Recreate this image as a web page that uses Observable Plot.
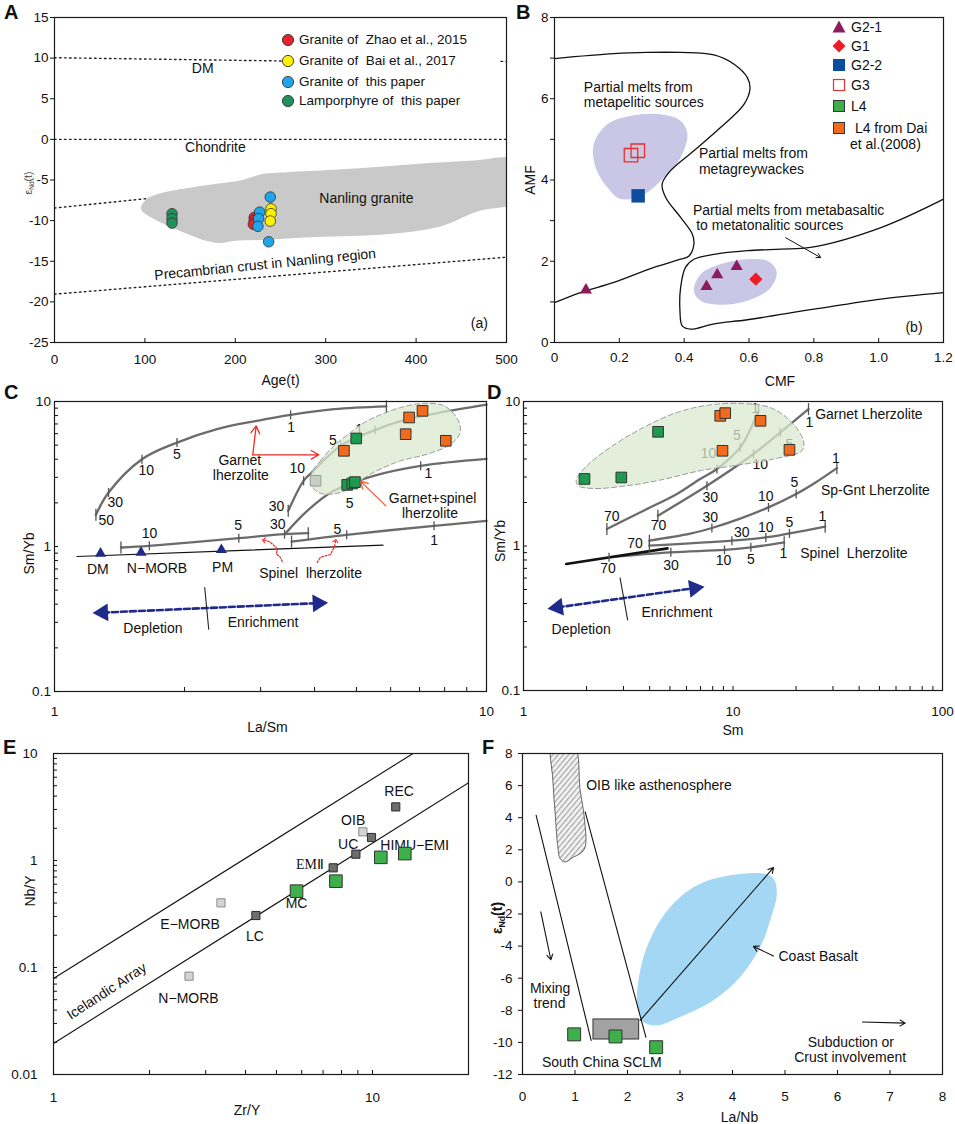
<!DOCTYPE html>
<html>
<head>
<meta charset="utf-8">
<script src="https://cdn.jsdelivr.net/npm/d3@7"></script>
<script src="https://cdn.jsdelivr.net/npm/@observablehq/plot@0.6"></script>
<style>
  html,body{margin:0;padding:0;background:#fff;}
  #fig{position:relative;width:955px;height:1124px;overflow:hidden;font-family:"Liberation Sans",Arial,Helvetica,sans-serif;color:#111;}
  .plab{position:absolute;font-weight:bold;font-size:20px;line-height:20px;}
  .ltxt{position:absolute;font-size:13.5px;line-height:16px;white-space:pre;}
  .lsym{position:absolute;overflow:visible;}
</style>
</head>
<body>
<div id="fig"></div>
<script>
// ================= Panel A : eNd(t) vs Age =================
const aXTicks = [0,100,200,300,400,500];
const aYTicks = [-25,-20,-15,-10,-5,0,5,10,15];
const aZhao = [{age:221,eNd:-9.6},{age:221,eNd:-10.0},{age:220,eNd:-10.45}];
const aBai  = [{age:239.5,eNd:-8.55},{age:239.5,eNd:-9.15},{age:238.7,eNd:-10.05}];
const aThis = [{age:227,eNd:-8.95},{age:225.8,eNd:-9.75},{age:225,eNd:-10.7},{age:238.7,eNd:-7.1},{age:236.9,eNd:-12.6}];
const aLamp = [{age:130,eNd:-9.15},{age:130,eNd:-9.75},{age:130,eNd:-10.3}];
const aRefLines = [
  {id:"DM",age:0,eNd:10.05},{id:"DM",age:252,eNd:9.65},
  {id:"DM2",age:494,eNd:9.6},{id:"DM2",age:500,eNd:9.6},
  {id:"CH",age:0,eNd:0},{id:"CH",age:500,eNd:0},
  {id:"UP",age:0,eNd:-8.45},{id:"UP",age:110,eNd:-7.2},
  {id:"PC",age:0,eNd:-19.05},{id:"PC",age:500,eNd:-14.5}
];
const aNanling = [[95.6,-8.34],[102.2,-7.31],[117,-6.62],[146.5,-6.0],[179.7,-5.47],[205.5,-5.06],[231.4,-4.24],[257.2,-4.04],[308.9,-3.75],[364.2,-3.34],[419.6,-2.89],[463.8,-2.6],[515,-2.6],[515,-7.5],[471.2,-8.75],[456.5,-9.36],[438,-10.3],[419.6,-10.92],[382.7,-11.53],[345.8,-11.82],[308.9,-11.94],[272,-12.1],[235.1,-12.35],[198.2,-12.51],[183.4,-12.76],[168.6,-12.51],[146.5,-11.61],[124.4,-10.59],[105.9,-9.56],[96.7,-8.83]];
const aLabels = [{age:164,eNd:8.7,t:"DM"},{age:178,eNd:-1.0,t:"Chondrite"},{age:345,eNd:-7.25,t:"Nanling granite"},{age:470,eNd:-22.7,t:"(a)"}];
const aRotLabel = [{age:233,eNd:-15.4,t:"Precambrian crust in Nanling region"}];
const aLegend = [
  {label:"Granite of  Zhao et al., 2015", color:"#e8222a"},
  {label:"Granite of  Bai et al., 2017", color:"#fff200"},
  {label:"Granite of  this paper", color:"#1ea5ea"},
  {label:"Lamporphyre of  this paper", color:"#22905a"}
];

// ================= Panel B : AMF vs CMF =================
const bXTicks = [0,0.2,0.4,0.6,0.8,1.0,1.2];
const bYTicks = [0,1,2,3,4,5,6,7,8];
const bG21 = [[0.097,1.29],[0.469,1.38],[0.502,1.67],[0.562,1.87]];
const bG1  = [[0.621,1.56]];
const bG22 = [[0.258,3.61]];
const bG3  = [[0.236,4.61],[0.257,4.72]];
const bBoundary1 = [[0,6.99],[0.183,7.11],[0.286,7.14],[0.389,7.14],[0.492,7.08],[0.554,6.85],[0.595,6.52],[0.603,6.24],[0.585,5.87],[0.512,5.29],[0.43,4.72],[0.358,4.23],[0.332,3.90],[0.343,3.57],[0.389,3.08],[0.425,2.67],[0.43,2.42],[0.415,2.13],[0.389,2.05],[0.307,1.85],[0.183,1.48],[0.08,1.23],[0,0.98]];
const bBoundary2 = [[1.2,3.53],[1.007,2.83],[0.79,2.34],[0.698,2.30],[0.595,2.26],[0.492,2.17],[0.43,2.05],[0.404,1.85],[0.389,1.35],[0.387,0.78],[0.394,0.41],[0.42,0.33],[0.492,0.46],[0.595,0.56],[0.8,0.82],[1.007,1.07],[1.2,1.23]];
const bShadeUpper = [[0.121,4.88],[0.163,5.37],[0.235,5.58],[0.327,5.62],[0.389,5.46],[0.41,5.13],[0.389,4.55],[0.338,4.06],[0.276,3.65],[0.204,3.53],[0.163,3.82],[0.127,4.31]];
const bShadeLower = [[0.43,1.27],[0.451,1.68],[0.513,1.93],[0.595,2.05],[0.656,2.01],[0.685,1.76],[0.667,1.35],[0.595,1.03],[0.513,0.93],[0.451,1.03]];
const bArrow = [{x1:0.713,y1:2.58,x2:0.821,y2:2.09}];
const bTexts = [
  {x:0.0906,y:6.28,t:"Partial melts from"},{x:0.0906,y:5.91,t:"metapelitic sources"},
  {x:0.4456,y:4.64,t:"Partial melts from"},{x:0.4456,y:4.27,t:"metagreywackes"},
  {x:0.427,y:3.24,t:"Partial melts from metabasaltic"},{x:0.437,y:2.87,t:"to metatonalitic sources"}
];
const bTag = [{x:1.109,y:0.37,t:"(b)"}];

// ================= Panel C : Sm/Yb vs La/Sm =================
const cXTicks = [1,2,3,4,5,6,7,8,9,10];
const cXMajor = [1,10];
const cYTicks = [0.1,0.2,0.3,0.4,0.5,0.6,0.7,0.8,0.9,1,2,3,4,5,6,7,8,9,10];
const cYMajor = [0.1,1,10];
const cGarnetCurve = [[1.247,1.653],[1.334,2.357],[1.594,4.0],[1.921,5.21],[2.378,6.45],[2.945,7.36],[3.52,8.09],[4.44,8.85],[5.865,9.25]];
const cGtSpCurveA = [[3.476,1.762],[3.772,2.837],[3.94,3.24],[4.596,4.946],[5.52,6.35],[6.56,7.56],[7.84,8.40],[10,9.5]];
const cGtSpCurveB = [[3.414,1.217],[3.846,1.762],[4.43,2.42],[5.48,3.07],[7.04,3.60],[10,4.02]];
const cSpinelA = [[1.425,0.984],[1.658,1.011],[2.671,1.142],[3.408,1.217],[3.868,1.236]];
const cSpinelB = [[3.538,1.082],[4.746,1.204],[7.56,1.388],[10,1.5]];
const cMantle = [[1.127,0.853],[5.76,1.022]];
const cTicks = [[1.334,2.357],[1.594,4.0],[1.921,5.21],[3.52,8.09],[3.772,2.837],[4.6,4.95],[5.52,6.35],[4.9,2.72],[7.04,3.60],[1.658,1.011],[2.671,1.142],[3.408,1.217],[4.746,1.204],[7.56,1.388]];
const cBars = [[1.247,1.653],[5.865,9.25],[3.476,1.762],[1.425,0.984],[3.868,1.236],[3.538,1.082]];
const cTickLabels = [
  {x:3.53,y:6.62,t:"1"},{x:1.921,y:4.34,t:"5"},{x:1.631,y:3.33,t:"10"},{x:1.383,y:2.01,t:"30"},{x:1.318,y:1.503,t:"50"},
  {x:3.266,y:1.888,t:"30"},{x:3.647,y:3.47,t:"10"},{x:4.41,y:5.36,t:"5"},{x:5.07,y:6.45,t:"1"},
  {x:3.288,y:1.427,t:"30"},{x:4.82,y:1.979,t:"5"},{x:7.34,y:3.17,t:"1"},
  {x:1.66,y:1.236,t:"10"},{x:2.66,y:1.388,t:"5"},{x:4.515,y:1.318,t:"5"},{x:7.56,y:1.106,t:"1"}
];
const cShade = [[3.915,3.072],[4.13,3.90],[4.436,4.946],[4.846,6.11],[5.30,7.36],[6.33,9.09],[7.17,9.69],[7.98,9.33],[8.57,7.56],[8.69,6.11],[8.27,5.08],[7.30,4.34],[6.33,3.90],[5.79,3.51],[5.30,3.072],[4.93,2.62],[4.596,2.357],[4.20,2.30],[3.985,2.49]];
const cOrange = [[4.677,4.57],[6.62,7.76],[7.11,8.62],[6.50,5.95],[8.05,5.36]];
const cGreen = [[4.995,5.56],[4.76,2.66],[4.89,2.72],[4.96,2.78]];
const cGrey = [[4.02,2.84]];
const cReservoirs = [[1.278,0.895],[1.586,0.909],[2.434,0.948]];
const cNames = [
  {x:2.685,y:3.90,t:"Garnet"},{x:2.70,y:3.07,t:"lherzolite"},
  {x:7.50,y:2.14,t:"Garnet+spinel"},{x:7.40,y:1.69,t:"lherzolite"},
  {x:3.915,y:0.655,t:"Spinel  lherzolite"},
  {x:1.26,y:0.69,t:"DM"},{x:1.727,y:0.705,t:"N\u2212MORB"},{x:2.45,y:0.716,t:"PM"},
  {x:1.69,y:0.272,t:"Depletion"},{x:3.04,y:0.299,t:"Enrichment"}
];
const cGarnetArrows = [{x1:2.877,y1:4.29,x2:2.93,y2:6.80},{x1:2.877,y1:4.29,x2:4.09,y2:4.29}];
const cGtSpArrow = [{x1:5.85,y1:1.908,x2:5.11,y2:2.81}];
const cWiggle1 = [[3.367,0.788],[3.324,0.848],[3.266,0.894],[3.278,0.959],[3.208,1.027],[3.134,1.082],[3.051,1.106]];
const cWiggle2 = [[4.057,0.775],[4.13,0.839],[4.24,0.862],[4.355,0.886],[4.396,0.933],[4.436,0.984],[4.475,1.094]];
const cDeplLine = [[1.294,0.35],[4.07,0.407]];
const cDeplHeads = [{x:1.294,y:0.35,rot:267.4},{x:4.07,y:0.407,rot:87.4}];
const cDivider = [[2.227,0.521],[2.275,0.269]];

// ================= Panel D : Sm/Yb vs Sm =================
const dXTicks = [1,2,3,4,5,6,7,8,9,10,20,30,40,50,60,70,80,90,100];
const dXMajor = [1,10,100];
const dGaCurve = [[2.50,1.311],[3.74,1.755],[5.40,2.29],[6.97,2.91],[8.38,3.41],[10.82,4.81],[13.23,8.62]];
const dGbCurve = [[4.38,1.62],[7.51,2.61],[12.52,4.33],[16.80,6.10],[22.93,8.86]];
const dSpGnt = [[3.99,1.089],[6.25,1.217],[7.93,1.332],[10.82,1.545],[14.77,1.85],[20.02,2.29],[24.67,2.74],[31.32,3.46]];
const dSp2 = [[3.99,1.005],[9.88,1.089],[14.35,1.147],[18.60,1.223],[27.54,1.36]];
const dSp3 = [[2.56,0.835],[5.05,0.904],[9.11,0.939],[12.17,0.979],[17.55,1.06]];
const dMantle = [[1.598,0.751],[4.87,0.963]];
const dTicks = [[8.38,3.41],[10.82,4.81],[7.51,2.61],[12.52,4.33],[16.80,6.10],[7.93,1.332],[14.77,1.85],[20.02,2.29],[9.88,1.089],[14.35,1.147],[18.60,1.223],[2.56,0.835],[5.05,0.904],[9.11,0.939],[12.17,0.979]];
const dBars = [[2.50,1.311],[13.23,8.62],[4.38,1.62],[22.93,8.86],[3.99,1.089],[31.32,3.46],[3.99,1.005],[27.54,1.36],[17.55,1.06]];
const dTickLabels = [
  {x:2.64,y:1.603,t:"70"},{x:7.64,y:4.37,t:"10"},{x:10.43,y:5.79,t:"5"},{x:12.76,y:8.90,t:"1"},
  {x:4.41,y:1.397,t:"70"},{x:7.78,y:2.15,t:"30"},{x:13.48,y:3.69,t:"10"},{x:18.60,y:5.02,t:"5"},{x:23.17,y:7.16,t:"1"},
  {x:7.78,y:1.563,t:"30"},{x:14.35,y:2.20,t:"10"},{x:19.65,y:2.73,t:"5"},{x:30.97,y:4.03,t:"1"},
  {x:3.41,y:1.043,t:"70"},
  {x:11.02,y:1.243,t:"30"},{x:14.35,y:1.345,t:"10"},{x:18.60,y:1.45,t:"5"},{x:26.7,y:1.595,t:"1"},
  {x:2.53,y:0.694,t:"70"},{x:5.06,y:0.731,t:"30"},{x:9.01,y:0.792,t:"10"},{x:12.17,y:0.804,t:"5"},{x:17.4,y:0.881,t:"1"}
];
const dNames = [{x:24.67,y:8.09,t:"Garnet Lherzolite"},{x:26.27,y:2.44,t:"Sp-Gnt Lherzolite"},{x:20.92,y:0.881,t:"Spinel  Lherzolite"}];
const dShade = [[1.784,2.86],[2.006,3.59],[2.593,4.81],[3.74,6.61],[5.40,8.39],[7.78,9.48],[11.22,9.68],[15.05,9.08],[18.75,7.35],[21.70,5.35],[21.32,4.56],[15.6,4.0],[10.05,3.59],[6.97,3.32],[4.49,2.86],[3.11,2.61],[2.158,2.50],[1.83,2.61]];
const dGreen = [[1.955,2.91],[2.93,2.98],[4.39,6.17]];
const dOrange = [[8.69,7.96],[9.18,8.31],[13.53,7.35],[8.91,4.56],[18.60,4.63]];
const dDeplLine = [[1.456,0.376],[6.54,0.511]];
const dDeplHeads = [{x:1.456,y:0.376,rot:262},{x:6.54,y:0.511,rot:82}];
const dDivider = [[2.89,0.601],[3.14,0.308]];
const dDeplText = [{x:1.885,y:0.263,t:"Depletion"},{x:5.40,y:0.348,t:"Enrichment"}];

// ================= Panel E : Nb/Y vs Zr/Y =================
const eXTicks = [1,2,3,4,5,6,7,8,9,10];
const eXMajor = [1,10];
const eYTicks = [0.01,0.02,0.03,0.04,0.05,0.06,0.07,0.08,0.09,0.1,0.2,0.3,0.4,0.5,0.6,0.7,0.8,0.9,1,2,3,4,5,6,7,8,9,10];
const eYMajor = [0.01,0.1,1,10];
const eUpper = [[1,0.079],[13.4,10]];
const eLower = [[1,0.0195],[20,5.33]];
const eLight = [[2.66,0.083],[3.35,0.402],[9.33,1.853]];
const eDark = [[4.31,0.306],[7.53,0.854],[8.87,1.146],[9.93,1.64],[11.83,3.17]];
const eSamples = [[5.78,0.517],[7.68,0.641],[10.62,1.07],[12.63,1.16]];
const eLabels = [
  {x:12.12,y:4.38,t:"REC"},{x:8.70,y:2.38,t:"OIB"},{x:8.39,y:1.42,t:"UC"},{x:13.57,y:1.39,t:"HIMU\u2212EM\u2160"},
  {x:5.78,y:0.396,t:"MC"},{x:2.68,y:0.254,t:"E\u2212MORB"},{x:4.28,y:0.194,t:"LC"},{x:2.65,y:0.0513,t:"N\u2212MORB"}
];
const eSerifLabel = [{x:6.37,y:0.918,t:"EM\u2161"}];
const eArrayLabel = [{x:1.469,y:0.060,t:"Icelandic Array"}];

// ================= Panel F : eNd(t) vs La/Nb =================
const fXTicks = [0,1,2,3,4,5,6,7,8];
const fYTicks = [-12,-10,-8,-6,-4,-2,0,2,4,6,8];
const fLeftLine = [[0.26,4.15],[1.308,-9.88]];
const fRightLine = [[1.194,4.36],[2.35,-9.67]];
const fOIB = [[0.571,8.7],[0.971,8.7],[1.098,5.71],[1.175,4.05],[1.194,2.18],[1.098,1.76],[0.971,1.55],[0.813,1.24],[0.717,1.45],[0.673,2.18],[0.622,4.26],[0.578,6.34]];
const fCoast = [[2.178,-7.18],[2.305,-4.68],[2.622,-2.4],[3.003,-0.94],[3.384,-0.11],[3.956,0.41],[4.59,0.52],[4.781,0.2],[4.845,-0.73],[4.717,-2.4],[4.527,-4.06],[4.146,-5.93],[3.638,-7.38],[3.003,-8.42],[2.559,-8.94],[2.305,-8.73],[2.21,-8.0]];
const fSCLM = [{x1:1.352,x2:2.222,y1:-9.82,y2:-8.57}];
const fArrows = [{x1:0.349,y1:-1.87,x2:0.54,y2:-4.85},{x1:2.241,y1:-8.63,x2:4.781,y2:0.89},{x1:4.781,y1:-4.62,x2:4.4,y2:-4.02},{x1:6.476,y1:-8.73,x2:7.289,y2:-8.8}];
const fSamples = [[0.984,-9.5],[1.771,-9.63],[2.546,-10.3]];
const fLeftTexts = [{x:1.213,y:6.02,t:"OIB like asthenosphere"},{x:4.876,y:-4.62,t:"Coast Basalt"}];
const fCenterTexts = [{x:0.527,y:-6.62,t:"Mixing"},{x:0.514,y:-7.55,t:"trend"},{x:1.511,y:-11.27,t:"South China SCLM"},{x:6.254,y:-10.02,t:"Subduction or"},{x:6.241,y:-10.96,t:"Crust involvement"}];

// ================= rendering =================
const fig = document.getElementById("fig");
const FONT = '"Liberation Sans", Arial, Helvetica, sans-serif';
const style = {background:"transparent", overflow:"visible", fontFamily:FONT, fontSize:"13.5px", color:"#111"};
const str = d => String(d);
const major = arr => d => arr.includes(d) ? String(d) : "";
const vbar = {draw(ctx, size){ const h = Math.sqrt(size/Math.PI); ctx.moveTo(0,-h); ctx.lineTo(0,h); }};
function place(svg, left, top){
  svg.style.position = "absolute"; svg.style.left = left+"px"; svg.style.top = top+"px"; svg.style.maxWidth = "none";
  fig.appendChild(svg); return svg;
}
function subNd(svg, shift){
  const ns = "http://www.w3.org/2000/svg";
  svg.querySelectorAll("text").forEach(t => {
    if (t.textContent === "εNd(t)") {
      t.textContent = "";
      const a = document.createElementNS(ns,"tspan"); a.textContent = "ε";
      const b = document.createElementNS(ns,"tspan"); b.textContent = "Nd"; b.setAttribute("font-size","0.62em"); b.setAttribute("dy", shift);
      const c = document.createElementNS(ns,"tspan"); c.textContent = "(t)"; c.setAttribute("dy", -shift);
      t.appendChild(a); t.appendChild(b); t.appendChild(c);
    }
  });
}
const frame = () => Plot.frame({stroke:"#1a1a1a", strokeWidth:1.2});
const title = (t, o) => Plot.text([t], {text: d => d, fontSize:14, textAnchor:"middle", lineAnchor:"middle", ...o});

// ---------- A ----------
const svgA = Plot.plot({
  width:520, height:390, marginLeft:54, marginRight:14, marginTop:17, marginBottom:48, style,
  x:{domain:[0,500]}, y:{domain:[-25,15]},
  marks:[
    Plot.line(aRefLines, {x:"age", y:"eNd", z:"id", stroke:"#222", strokeWidth:1.4, strokeDasharray:"1.6,3.4"}),
    Plot.line(aNanling, {curve:"catmull-rom-closed", fill:"#c9c9c9", stroke:"none", clip:true}),
    Plot.text(aLabels, {x:"age", y:"eNd", text:"t", fontSize:14}),
    Plot.text(aRotLabel, {x:"age", y:"eNd", text:"t", fontSize:14, rotate:-5.7}),
    Plot.dot(aLamp, {x:"age", y:"eNd", r:5.3, fill:"#22905a", stroke:"#333", strokeWidth:0.8}),
    Plot.dot(aZhao, {x:"age", y:"eNd", r:5.3, fill:"#e8222a", stroke:"#333", strokeWidth:0.8}),
    Plot.dot(aThis, {x:"age", y:"eNd", r:5.3, fill:"#1ea5ea", stroke:"#333", strokeWidth:0.8}),
    Plot.dot(aBai, {x:"age", y:"eNd", r:5.3, fill:"#fff200", stroke:"#333", strokeWidth:0.8}),
    frame(),
    Plot.axisX(aXTicks, {tickSize:-4, tickPadding:16, tickFormat:str, label:null}),
    Plot.axisY(aYTicks, {tickSize:4, tickPadding:2, tickFormat:str, label:null}),
    title("Age(t)", {frameAnchor:"bottom", dy:38}),
    title("εNd(t)", {frameAnchor:"left", dx:-26, dy:3, rotate:-90, fontSize:10.5, fill:"#444"})
  ]
});
subNd(svgA, 2);
place(svgA, 0, 0);

// ---------- B ----------
place(Plot.plot({
  width:455, height:390, marginLeft:54, marginRight:12, marginTop:17, marginBottom:48, style,
  x:{domain:[0,1.2]}, y:{domain:[0,8]},
  marks:[
    Plot.line(bShadeUpper, {curve:"catmull-rom-closed", fill:"#cac7e6", stroke:"none"}),
    Plot.line(bShadeLower, {curve:"catmull-rom-closed", fill:"#cac7e6", stroke:"none"}),
    Plot.line(bBoundary1, {curve:"catmull-rom", stroke:"#111", strokeWidth:1.3}),
    Plot.line(bBoundary2, {curve:"catmull-rom", stroke:"#111", strokeWidth:1.3}),
    Plot.arrow(bArrow, {x1:"x1", y1:"y1", x2:"x2", y2:"y2", stroke:"#111", strokeWidth:1, headLength:7}),
    Plot.text(bTexts, {x:"x", y:"y", text:"t", textAnchor:"start", fontSize:14}),
    Plot.text(bTag, {x:"x", y:"y", text:"t", fontSize:14}),
    Plot.dot(bG3, {symbol:"square", r:7.6, fill:"none", stroke:"#e8312f", strokeWidth:1.3}),
    Plot.dot(bG22, {symbol:"square", r:7.6, fill:"#0e4d9e"}),
    Plot.dot(bG21, {symbol:"triangle2", r:5.8, fill:"#8b1d5c"}),
    Plot.dot(bG1, {symbol:"square", rotate:45, r:5.3, fill:"#ee1d25"}),
    frame(),
    Plot.axisX(bXTicks, {tickSize:-4, tickPadding:14, tickFormat:d => d === 0 ? "0" : d.toFixed(1), label:null}),
    Plot.axisY(bYTicks, {tickSize:4, tickPadding:2, tickFormat:d => d % 2 === 0 ? String(d) : "", label:null}),
    title("CMF", {frameAnchor:"bottom", dy:39, dx:31}),
    title("AMF", {frameAnchor:"left", dx:-24, rotate:-90})
  ]
}), 500, 0);

// ---------- C ----------
place(Plot.plot({
  width:500, height:360, marginLeft:54, marginRight:14, marginTop:21, marginBottom:49, style,
  x:{type:"log", domain:[1,10]}, y:{type:"log", domain:[0.1,10]},
  marks:[
    Plot.line(cMantle, {stroke:"#111", strokeWidth:1.2}),
    Plot.line(cGarnetCurve, {curve:"catmull-rom", stroke:"#6b6b6b", strokeWidth:2.3}),
    Plot.line(cGtSpCurveA, {curve:"catmull-rom", stroke:"#6b6b6b", strokeWidth:2.3}),
    Plot.line(cGtSpCurveB, {curve:"catmull-rom", stroke:"#6b6b6b", strokeWidth:2.3}),
    Plot.line(cSpinelA, {curve:"catmull-rom", stroke:"#6b6b6b", strokeWidth:2.3}),
    Plot.line(cSpinelB, {curve:"catmull-rom", stroke:"#6b6b6b", strokeWidth:2.3}),
    Plot.dot(cTicks, {symbol:vbar, r:4.5, stroke:"#555", strokeWidth:1.3, fill:"none"}),
    Plot.dot(cBars, {symbol:vbar, r:6, stroke:"#555", strokeWidth:1.3, fill:"none"}),
    Plot.text(cTickLabels, {x:"x", y:"y", text:"t", fontSize:14}),
    Plot.line(cShade, {curve:"catmull-rom-closed", fill:"#d9e9cf", fillOpacity:0.75, stroke:"#9a9a9a", strokeWidth:1, strokeDasharray:"5,3"}),
    Plot.dot(cGrey, {symbol:"square", r:6, fill:"#c9ccc4", stroke:"#9a9a9a", strokeWidth:1}),
    Plot.dot(cOrange, {symbol:"square", r:6, fill:"#f26a1b", stroke:"#333", strokeWidth:1}),
    Plot.dot(cGreen, {symbol:"square", r:6, fill:"#1d9a50", stroke:"#333", strokeWidth:1}),
    Plot.dot(cReservoirs, {symbol:"triangle2", r:5.3, fill:"#1f2b86"}),
    Plot.text(cNames, {x:"x", y:"y", text:"t", fontSize:14}),
    Plot.arrow(cGarnetArrows, {x1:"x1", y1:"y1", x2:"x2", y2:"y2", stroke:"#ee2a24", strokeWidth:1.3, headLength:10}),
    Plot.arrow(cGtSpArrow, {x1:"x1", y1:"y1", x2:"x2", y2:"y2", stroke:"#f0552a", strokeWidth:1.2, headLength:10}),
    Plot.line(cWiggle1, {curve:"catmull-rom", stroke:"#ee2a24", strokeWidth:1.2, strokeDasharray:"2,1.6", markerEnd:"arrow"}),
    Plot.line(cWiggle2, {curve:"catmull-rom", stroke:"#ee2a24", strokeWidth:1.2, strokeDasharray:"2,1.6", markerEnd:"arrow"}),
    Plot.line(cDeplLine, {stroke:"#1f2b8c", strokeWidth:2.6, strokeDasharray:"6,3"}),
    Plot.dot(cDeplHeads, {x:"x", y:"y", rotate:"rot", symbol:"triangle2", r:8.5, fill:"#1f2b8c"}),
    Plot.line(cDivider, {stroke:"#222", strokeWidth:1.1}),
    frame(),
    Plot.axisX(cXTicks, {tickSize:-4, tickPadding:19, tickFormat:major(cXMajor), label:null}),
    Plot.axisY(cYTicks, {tickSize:-4, tickPadding:7.6, tickFormat:major(cYMajor), label:null}),
    title("La/Sm", {frameAnchor:"bottom", dy:36, dx:-3}),
    title("Sm/Yb", {frameAnchor:"left", dx:-25, dy:7, rotate:-90})
  ]
}), 0, 380);

// ---------- D ----------
place(Plot.plot({
  width:475, height:360, marginLeft:43, marginRight:13, marginTop:21, marginBottom:50, style,
  x:{type:"log", domain:[1,100]}, y:{type:"log", domain:[0.1,10]},
  marks:[
    Plot.line(dGaCurve, {curve:"catmull-rom", stroke:"#6b6b6b", strokeWidth:2.3}),
    Plot.line(dGbCurve, {curve:"catmull-rom", stroke:"#6b6b6b", strokeWidth:2.3}),
    Plot.line(dSpGnt, {curve:"catmull-rom", stroke:"#6b6b6b", strokeWidth:2.3}),
    Plot.line(dSp2, {curve:"catmull-rom", stroke:"#6b6b6b", strokeWidth:2.3}),
    Plot.line(dSp3, {curve:"catmull-rom", stroke:"#6b6b6b", strokeWidth:2.3}),
    Plot.line(dMantle, {stroke:"#111", strokeWidth:2.6}),
    Plot.dot(dTicks, {symbol:vbar, r:4.5, stroke:"#555", strokeWidth:1.3, fill:"none"}),
    Plot.dot(dBars, {symbol:vbar, r:6, stroke:"#555", strokeWidth:1.3, fill:"none"}),
    Plot.text(dTickLabels, {x:"x", y:"y", text:"t", fontSize:14}),
    Plot.line(dShade, {curve:"catmull-rom-closed", fill:"#d9e9cf", fillOpacity:0.75, stroke:"#9a9a9a", strokeWidth:1, strokeDasharray:"5,3"}),
    Plot.dot(dGreen, {symbol:"square", r:6, fill:"#1d9a50", stroke:"#333", strokeWidth:1}),
    Plot.dot(dOrange, {symbol:"square", r:6, fill:"#f26a1b", stroke:"#333", strokeWidth:1}),
    Plot.text(dNames, {x:"x", y:"y", text:"t", textAnchor:"start", fontSize:14}),
    Plot.line(dDeplLine, {stroke:"#1f2b8c", strokeWidth:2.6, strokeDasharray:"6,3"}),
    Plot.dot(dDeplHeads, {x:"x", y:"y", rotate:"rot", symbol:"triangle2", r:8.5, fill:"#1f2b8c"}),
    Plot.line(dDivider, {stroke:"#222", strokeWidth:1.1}),
    Plot.text(dDeplText, {x:"x", y:"y", text:"t", fontSize:14}),
    frame(),
    Plot.axisX(dXTicks, {tickSize:-4, tickPadding:20, tickFormat:major(dXMajor), label:null}),
    Plot.axisY(cYTicks, {tickSize:-4, tickPadding:7.3, tickFormat:major(cYMajor), label:null}),
    title("Sm", {frameAnchor:"bottom", dy:40}),
    title("Sm/Yb", {frameAnchor:"left", dx:-23, dy:-5, rotate:-90})
  ]
}), 480, 380);

// ---------- E ----------
place(Plot.plot({
  width:500, height:384, marginLeft:53, marginRight:32, marginTop:13, marginBottom:50, style,
  x:{type:"log", domain:[1,20]}, y:{type:"log", domain:[0.01,10]},
  marks:[
    Plot.line(eUpper, {stroke:"#111", strokeWidth:1.1, clip:true}),
    Plot.line(eLower, {stroke:"#111", strokeWidth:1.1, clip:true}),
    Plot.text(eLabels, {x:"x", y:"y", text:"t", fontSize:14}),
    Plot.text(eSerifLabel, {x:"x", y:"y", text:"t", fontSize:14, fontFamily:'"Liberation Serif", "Times New Roman", serif'}),
    Plot.text(eArrayLabel, {x:"x", y:"y", text:"t", fontSize:14, rotate:-33}),
    Plot.dot(eLight, {symbol:"square", r:4.6, fill:"#d4d4d4", stroke:"#8a8a8a", strokeWidth:1}),
    Plot.dot(eDark, {symbol:"square", r:4.6, fill:"#6e6e6e", stroke:"#2a2a2a", strokeWidth:1}),
    Plot.dot(eSamples, {symbol:"square", r:7.1, fill:"#3db04b", stroke:"#333", strokeWidth:1}),
    frame(),
    Plot.axisX(eXTicks, {tickSize:-4, tickPadding:22, tickFormat:major(eXMajor), label:null}),
    Plot.axisY(eYTicks, {tickSize:-4, tickPadding:20, tickFormat:major(eYMajor), label:null}),
    title("Zr/Y", {frameAnchor:"bottom", dy:36, dx:-14}),
    title("Nb/Y", {frameAnchor:"left", dx:-23, dy:-23, rotate:-90})
  ]
}), 0, 740);

// ---------- F ----------
const svgF = Plot.plot({
  width:475, height:384, marginLeft:42, marginRight:13, marginTop:13, marginBottom:50, style,
  x:{domain:[0,8]}, y:{domain:[-12,8]},
  marks:[
    Plot.line(fCoast, {curve:"catmull-rom-closed", fill:"#a3d7f4", stroke:"none"}),
    Plot.line(fOIB, {curve:"catmull-rom-closed", fill:"url(#hatchF)", stroke:"#444", strokeWidth:0.8, clip:true}),
    Plot.line(fLeftLine, {stroke:"#111", strokeWidth:1.1}),
    Plot.line(fRightLine, {stroke:"#111", strokeWidth:1.1}),
    Plot.rect(fSCLM, {x1:"x1", x2:"x2", y1:"y1", y2:"y2", fill:"#a2a2a2", stroke:"#333", strokeWidth:1}),
    Plot.arrow(fArrows, {x1:"x1", y1:"y1", x2:"x2", y2:"y2", stroke:"#111", strokeWidth:1.1, headLength:8}),
    Plot.dot(fSamples, {symbol:"square", r:7.3, fill:"#3db04b", stroke:"#333", strokeWidth:1}),
    Plot.text(fLeftTexts, {x:"x", y:"y", text:"t", textAnchor:"start", fontSize:14}),
    Plot.text(fCenterTexts, {x:"x", y:"y", text:"t", fontSize:14}),
    frame(),
    Plot.axisX(fXTicks, {tickSize:-4, tickPadding:21, tickFormat:str, label:null}),
    Plot.axisY(fYTicks, {tickSize:4, tickPadding:6, tickFormat:str, label:null}),
    title("La/Nb", {frameAnchor:"bottom", dy:43, dx:7}),
    title("εNd(t)", {frameAnchor:"left", dx:-25, dy:4, rotate:-90, fontWeight:"bold", fontSize:14})
  ]
});
{
  const ns = "http://www.w3.org/2000/svg";
  const defs = document.createElementNS(ns, "defs");
  defs.innerHTML = '<pattern id="hatchF" patternUnits="userSpaceOnUse" width="4" height="4" patternTransform="rotate(40)"><rect width="4" height="4" fill="#f2f2f2"/><line x1="0.6" y1="0" x2="0.6" y2="4" stroke="#a0a0a0" stroke-width="1.1"/></pattern>';
  svgF.insertBefore(defs, svgF.firstChild);
}
subNd(svgF, 3);
place(svgF, 480, 740);

// ---------- legends & panel letters (HTML overlays) ----------
function addEl(html){ const d = document.createElement("div"); d.innerHTML = html; const el = d.firstElementChild; fig.appendChild(el); return el; }
const aRowY = [40, 61, 82, 101];
aLegend.forEach((e, i) => {
  const y = aRowY[i];
  addEl(`<svg class="lsym" style="left:281px;top:${y-7}px" width="14" height="14"><circle cx="7" cy="7" r="5.6" fill="${e.color}" stroke="#333" stroke-width="0.9"/></svg>`);
  addEl(`<div class="ltxt" style="left:299px;top:${y-8}px">${e.label}</div>`);
});
const bLegend = [
  {label:"G2-1", sym:'<polygon points="7,0.5 13.5,12.5 0.5,12.5" fill="#8b1d5c"/>'},
  {label:"G1", sym:'<polygon points="7,0.5 13.5,7 7,13.5 0.5,7" fill="#ee1d25"/>'},
  {label:"G2-2", sym:'<rect x="1" y="1" width="12" height="12" fill="#0e4d9e"/>'},
  {label:"G3", sym:'<rect x="1.5" y="1.5" width="11" height="11" fill="#fff" stroke="#e8312f" stroke-width="1.2"/>'},
  {label:"L4", sym:'<rect x="1.5" y="1.5" width="11" height="11" fill="#3db04b" stroke="#333" stroke-width="1"/>'},
  {label:" L4 from Dai", sym:'<rect x="1.5" y="1.5" width="11" height="11" fill="#f26a1b" stroke="#333" stroke-width="1"/>'}
];
const bRowY = [27, 46, 65, 85, 106, 128];
bLegend.forEach((e, i) => {
  const y = bRowY[i];
  addEl(`<svg class="lsym" style="left:832px;top:${y-7}px" width="14" height="14">${e.sym}</svg>`);
  addEl(`<div class="ltxt" style="left:851px;top:${y-8}px;font-size:14px">${e.label}</div>`);
});
addEl(`<div class="ltxt" style="left:850px;top:136px;font-size:14px">et al.(2008)</div>`);
const letters = [["A",4,2],["B",516,2],["C",4,382],["D",487,382],["E",3,737],["F",482,737]];
letters.forEach(([t,x,y]) => addEl(`<div class="plab" style="left:${x}px;top:${y}px">${t}</div>`));
</script>
</body>
</html>
